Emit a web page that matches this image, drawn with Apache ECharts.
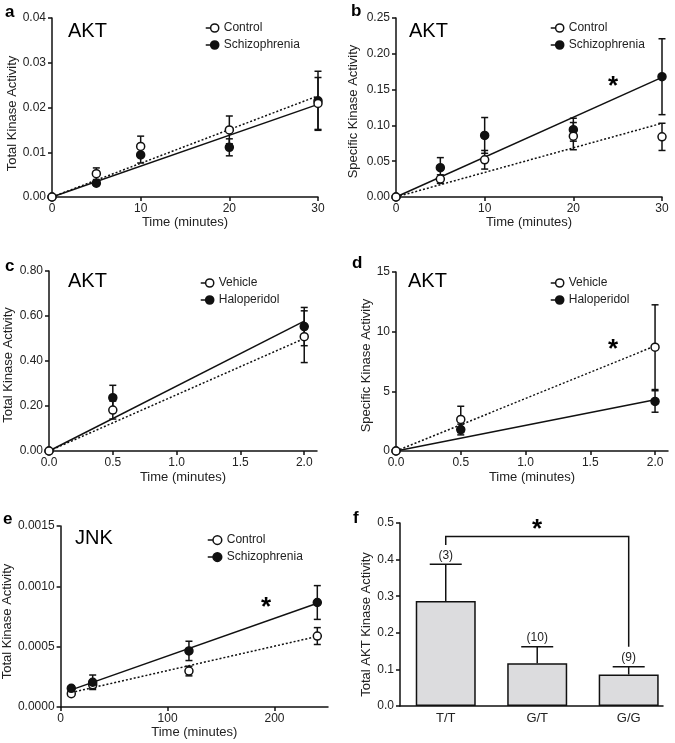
<!DOCTYPE html>
<html><head><meta charset="utf-8">
<script src="https://cdn.jsdelivr.net/npm/echarts/dist/echarts.min.js"></script>
<style>html,body{margin:0;padding:0;background:#fff}#c{width:675px;height:743px}</style>
</head><body><div id="c"></div>
<script>
// ---------- DATA ----------
// Panel a (AKT total, Control vs Schizophrenia)
const aTime = [0, 5, 10, 20, 30];
const aCtrl = [0, 0.0052, 0.0113, 0.0150, 0.0209];
const aCtrlErr = [0, 0.0013, 0.0023, 0.0031, 0.0058];
const aScz = [0, 0.0031, 0.0094, 0.0111, 0.0215];
const aSczErr = [0, 0.0005, 0.0018, 0.0019, 0.0066];
const aFitX = [0, 30];
const aCtrlFit = [0, 0.0226];
const aSczFit = [0, 0.0207];
// Panel b (AKT specific)
const bTime = [0, 5, 10, 20, 30];
const bCtrl = [0, 0.025, 0.052, 0.085, 0.084];
const bCtrlErr = [0, 0.006, 0.013, 0.019, 0.019];
const bScz = [0, 0.041, 0.086, 0.094, 0.168];
const bSczErr = [0, 0.014, 0.025, 0.016, 0.053];
const bFitX = [0, 30];
const bCtrlFit = [0, 0.103];
const bSczFit = [0, 0.167];
// Panel c (AKT total, Vehicle vs Haloperidol)
const cTime = [0, 0.5, 2.0];
const cVeh = [0, 0.182, 0.508];
const cVehErr = [0, 0.04, 0.115];
const cHal = [0, 0.237, 0.553];
const cHalErr = [0, 0.055, 0.085];
const cFitX = [0, 2.0];
const cVehFit = [0, 0.500];
const cHalFit = [0, 0.577];
// Panel d (AKT specific)
const dTime = [0, 0.5, 2.0];
const dVeh = [0, 2.65, 8.7];
const dVehErr = [0, 1.1, 3.55];
const dHal = [0, 1.8, 4.15];
const dHalErr = [0, 0.45, 0.9];
const dFitX = [0, 2.0];
const dVehFit = [0, 8.8];
const dHalFit = [0, 4.3];
// Panel e (JNK total)
const eTime = [10, 30, 120, 240];
const eCtrl = [0.000110, 0.000185, 0.000298, 0.000588];
const eCtrlErr = [0.00002, 0.00003, 0.00004, 0.00007];
const eScz = [0.000155, 0.000205, 0.000465, 0.000866];
const eSczErr = [0.00002, 0.00006, 0.00008, 0.00014];
const eFitX = [10, 240];
const eCtrlFit = [0.000120, 0.000585];
const eSczFit = [0.000142, 0.000860];
// Panel f (genotype bars)
const fCats = ['T/T', 'G/T', 'G/G'];
const fMean = [0.287, 0.117, 0.086];
const fErr = [0.100, 0.045, 0.021];
const fN = ['(3)', '(10)', '(9)'];
const fBracket = [0, 2, 0.463, 0.44, 0.162]; // from, to, top, left end, right end

// ---------- STYLE / HELPERS ----------
const FONT = '"Liberation Sans", Arial, Helvetica, sans-serif';
const INK = '#111';
const TXT = '#222';
const LEG_ICON = 'path://M0,5L6,5M6,5A5,5,0,1,0,16,5A5,5,0,1,0,6,5Z';
const grids = [
  {left: 52, top: 18, width: 266, height: 179},
  {left: 396, top: 18, width: 266, height: 179},
  {left: 49, top: 271, width: 268, height: 180},
  {left: 396, top: 272, width: 272, height: 179},
  {left: 60, top: 526, width: 268, height: 181},
  {left: 400, top: 523, width: 263, height: 183}
];

function axis(gi, o) {
  const a = {
    type: 'value', gridIndex: gi, min: o.min, max: o.max, interval: o.interval,
    name: o.name, nameLocation: 'middle', nameGap: o.nameGap,
    nameTextStyle: {fontFamily: FONT, fontSize: 13, color: TXT, padding: o.namePad || 0},
    axisLine: {show: true, onZero: false, lineStyle: {color: INK, width: 1.5}},
    axisTick: {show: o.tick !== false, inside: false, length: 4, lineStyle: {color: INK, width: 1.5}},
    axisLabel: {fontFamily: FONT, fontSize: o.labelSize || 12, color: TXT, margin: 6, formatter: o.fmt},
    splitLine: {show: false}
  };
  if (o.custom) { a.axisLabel.customValues = o.custom; a.axisTick.customValues = o.custom; }
  return a;
}
function pts(xs, ys) { return xs.map((x, i) => [x, ys[i]]); }
function dataSeries(name, gi, xs, ys, filled) {
  return {type: 'line', name, xAxisIndex: gi, yAxisIndex: gi, data: pts(xs, ys),
    symbol: 'circle', symbolSize: 8, showAllSymbol: true,
    lineStyle: {opacity: 0}, itemStyle: {color: filled ? INK : '#fff', borderColor: INK, borderWidth: 1.5},
    z: 5, silent: true};
}
function fitSeries(gi, xs, ys, dotted) {
  return {type: 'line', xAxisIndex: gi, yAxisIndex: gi, data: pts(xs, ys), symbol: 'none',
    lineStyle: {color: INK, width: 1.5, type: dotted ? [2, 2] : 'solid'}, z: 3, silent: true};
}
function errSeries(gi, xs, ys, es) {
  return {type: 'custom', xAxisIndex: gi, yAxisIndex: gi, z: 2, silent: true,
    data: xs.map((x, i) => [x, ys[i], es[i]]),
    renderItem: function (params, api) {
      const x = api.value(0), y = api.value(1), e = api.value(2);
      if (!e) return null;
      const t = api.coord([x, y + e]), b = api.coord([x, y - e]);
      const st = {stroke: INK, lineWidth: 1.5};
      const w = 3.5;
      return {type: 'group', children: [
        {type: 'line', shape: {x1: t[0], y1: t[1], x2: b[0], y2: b[1]}, style: st},
        {type: 'line', shape: {x1: t[0] - w, y1: t[1], x2: t[0] + w, y2: t[1]}, style: st},
        {type: 'line', shape: {x1: b[0] - w, y1: b[1], x2: b[0] + w, y2: b[1]}, style: st}
      ]};
    }};
}
function legend(names, left, top, iw) {
  return {data: names.map(n => ({name: n, icon: LEG_ICON})), orient: 'vertical', left, top,
    itemWidth: iw, itemHeight: 11, itemGap: 5, selectedMode: false, padding: 0, symbolKeepAspect: true,
    textStyle: {fontFamily: FONT, fontSize: 12, color: TXT},
    itemStyle: {borderColor: INK, borderWidth: 1.5}};
}
function txt(s, x, y, size, bold, align) {
  return {type: 'text', x, y, silent: true,
    style: {text: s, fontFamily: FONT, fontSize: size, fontWeight: bold ? 'bold' : 'normal',
      fill: '#000', textAlign: align || 'left', textVerticalAlign: 'middle'}};
}

const f2 = v => v.toFixed(2);
const xAxes = [
  axis(0, {min: 0, max: 30, interval: 10, name: 'Time (minutes)', nameGap: 10}),
  axis(1, {min: 0, max: 30, interval: 10, name: 'Time (minutes)', nameGap: 10}),
  axis(2, {min: 0, max: 2.1, name: 'Time (minutes)', nameGap: 20, custom: [0, 0.5, 1, 1.5, 2], fmt: v => v.toFixed(1)}),
  axis(3, {min: 0, max: 2.1, name: 'Time (minutes)', nameGap: 20, custom: [0, 0.5, 1, 1.5, 2], fmt: v => v.toFixed(1)}),
  axis(4, {min: 0, max: 250, name: 'Time (minutes)', nameGap: 19, custom: [0, 100, 200]}),
  axis(5, {min: -0.5, max: 2.375, tick: false, labelSize: 13, custom: [0, 1, 2], fmt: v => fCats[Math.round(v)]})
];
const yAxes = [
  axis(0, {min: 0, max: 0.04, interval: 0.01, name: 'Total Kinase Activity', nameGap: 32, namePad: [0, 12, 0, 0], fmt: f2}),
  axis(1, {min: 0, max: 0.25, interval: 0.05, name: 'Specific Kinase Activity', nameGap: 36, namePad: [0, 8, 0, 0], fmt: f2}),
  axis(2, {min: 0, max: 0.8, interval: 0.2, name: 'Total Kinase Activity', nameGap: 34, namePad: [0, 8, 0, 0], fmt: f2}),
  axis(3, {min: 0, max: 15, interval: 5, name: 'Specific Kinase Activity', nameGap: 22, namePad: [0, 8, 0, 0], fmt: v => String(v)}),
  axis(4, {min: 0, max: 0.0015, interval: 0.0005, name: 'Total Kinase Activity', nameGap: 46, namePad: [0, 10, 0, 0], fmt: v => v.toFixed(4)}),
  axis(5, {min: 0, max: 0.5, interval: 0.1, name: 'Total AKT Kinase Activity', nameGap: 26, namePad: [0, 20, 0, 0], fmt: v => v.toFixed(1)})
];

const series = [
  // a
  errSeries(0, aTime, aScz, aSczErr), errSeries(0, aTime, aCtrl, aCtrlErr),
  fitSeries(0, aFitX, aCtrlFit, true), fitSeries(0, aFitX, aSczFit, false),
  dataSeries('Schizophrenia', 0, aTime, aScz, true), dataSeries('Control', 0, aTime, aCtrl, false),
  // b
  errSeries(1, bTime, bScz, bSczErr), errSeries(1, bTime, bCtrl, bCtrlErr),
  fitSeries(1, bFitX, bCtrlFit, true), fitSeries(1, bFitX, bSczFit, false),
  dataSeries('Schizophrenia', 1, bTime, bScz, true), dataSeries('Control', 1, bTime, bCtrl, false),
  // c
  errSeries(2, cTime, cHal, cHalErr), errSeries(2, cTime, cVeh, cVehErr),
  fitSeries(2, cFitX, cVehFit, true), fitSeries(2, cFitX, cHalFit, false),
  dataSeries('Haloperidol', 2, cTime, cHal, true), dataSeries('Vehicle', 2, cTime, cVeh, false),
  // d
  errSeries(3, dTime, dHal, dHalErr), errSeries(3, dTime, dVeh, dVehErr),
  fitSeries(3, dFitX, dVehFit, true), fitSeries(3, dFitX, dHalFit, false),
  dataSeries('Haloperidol', 3, dTime, dHal, true), dataSeries('Vehicle', 3, dTime, dVeh, false),
  // e
  errSeries(4, eTime, eScz, eSczErr), errSeries(4, eTime, eCtrl, eCtrlErr),
  fitSeries(4, eFitX, eCtrlFit, true), fitSeries(4, eFitX, eSczFit, false),
  dataSeries('Control', 4, eTime, eCtrl, false), dataSeries('Schizophrenia', 4, eTime, eScz, true),
  // f
  {type: 'bar', xAxisIndex: 5, yAxisIndex: 5, barWidth: 60, silent: true, z: 2,
    data: fMean.map((v, i) => [i, v]),
    itemStyle: {color: '#dcdcde', borderColor: INK, borderWidth: 1.5}},
  {type: 'custom', xAxisIndex: 5, yAxisIndex: 5, z: 1, silent: true,
    data: fMean.map((v, i) => [i, v, fErr[i]]),
    renderItem: function (params, api) {
      const i = api.value(0), m = api.value(1), e = api.value(2);
      const b = api.coord([i, m]), t = api.coord([i, m + e]);
      const st = {stroke: INK, lineWidth: 1.5};
      return {type: 'group', children: [
        {type: 'line', shape: {x1: b[0], y1: b[1], x2: t[0], y2: t[1]}, style: st},
        {type: 'line', shape: {x1: t[0] - 16, y1: t[1], x2: t[0] + 16, y2: t[1]}, style: st},
        {type: 'text', style: {text: fN[params.dataIndex], x: t[0], y: t[1] - 3, fontFamily: FONT, fontSize: 12,
          fill: TXT, textAlign: 'center', textVerticalAlign: 'bottom'}}
      ]};
    }},
  {type: 'custom', xAxisIndex: 5, yAxisIndex: 5, z: 3, silent: true,
    data: [fBracket],
    renderItem: function (params, api) {
      const p1 = api.coord([api.value(0), api.value(3)]);
      const p2 = api.coord([api.value(0), api.value(2)]);
      const p3 = api.coord([api.value(1), api.value(2)]);
      const p4 = api.coord([api.value(1), api.value(4)]);
      return {type: 'polyline', shape: {points: [p1, p2, p3, p4]}, style: {stroke: INK, lineWidth: 1.5, fill: null}};
    }}
];

const chart = echarts.init(document.getElementById('c'), null, {renderer: 'canvas'});
chart.setOption({
  animation: false,
  backgroundColor: '#fff',
  grid: grids,
  xAxis: xAxes,
  yAxis: yAxes,
  legend: [
    legend(['Control', 'Schizophrenia'], 205, 22, 13),
    legend(['Control', 'Schizophrenia'], 550, 22, 13),
    legend(['Vehicle', 'Haloperidol'], 200, 277, 13),
    legend(['Vehicle', 'Haloperidol'], 550, 277, 13),
    legend(['Control', 'Schizophrenia'], 207, 534, 14)
  ],
  series,
  graphic: [
    txt('a', 5, 12, 17, true), txt('b', 351, 11, 17, true),
    txt('c', 5, 266, 17, true), txt('d', 352, 263, 17, true),
    txt('e', 3, 519, 17, true), txt('f', 353, 518, 17, true),
    txt('AKT', 68, 31, 20), txt('AKT', 409, 31, 20),
    txt('AKT', 68, 281, 20), txt('AKT', 408, 281, 20),
    txt('JNK', 75, 538, 20),
    txt('*', 613, 87, 26, true, 'center'), txt('*', 613, 350, 26, true, 'center'),
    txt('*', 266, 608, 26, true, 'center'), txt('*', 537, 530, 26, true, 'center')
  ]
});
</script></body></html>
